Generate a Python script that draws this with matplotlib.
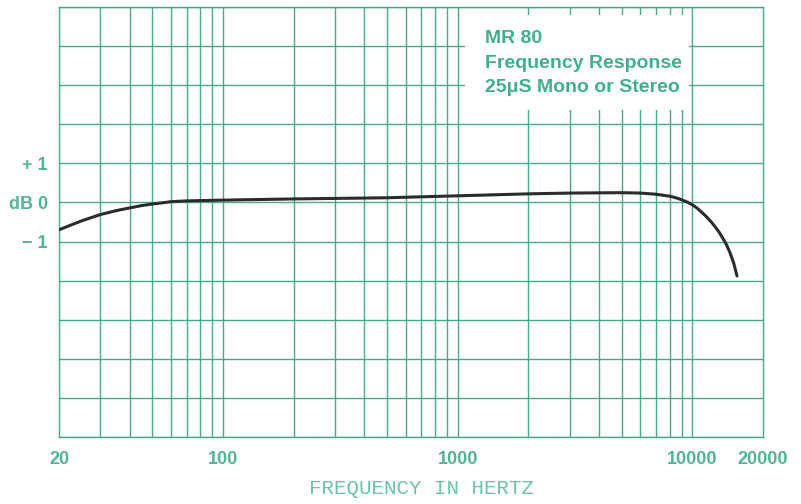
import matplotlib.pyplot as plt
import numpy as np
from matplotlib.patches import Rectangle

# response curve of the MR 80 (dB vs Hz)
freq = [20, 22, 25, 28, 30, 35, 40, 45, 50, 55, 60, 70, 100, 200, 500, 1000,
        2000, 3000, 5000, 6000, 7000, 8000, 8500, 9000, 9500, 10000, 10500,
        11000, 11500, 12000, 12500, 13000, 13500, 14000, 14500, 15000, 15500]
resp = [-0.70, -0.60, -0.47, -0.37, -0.31, -0.21, -0.14, -0.08, -0.04, -0.01,
        0.02, 0.04, 0.06, 0.09, 0.12, 0.17, 0.22, 0.24, 0.25, 0.24, 0.21, 0.16,
        0.12, 0.07, 0.01, -0.06, -0.15, -0.26, -0.37, -0.49, -0.62, -0.76,
        -0.92, -1.09, -1.30, -1.55, -1.88]

xgrid = list(range(30, 100, 10)) + list(range(100, 1000, 100)) + \
        list(range(1000, 10001, 1000))
xtick_vals = [20, 100, 1000, 10000, 20000]
xtick_text = ["20", "100", "1000", "10000", "20000"]
ygrid = list(range(-6, 6))
ylab = {1: "+ 1", 0: "dB 0", -1: "\u2212 1"}

title_lines = ["MR 80", "Frequency Response", "25\u03bcS Mono or Stereo"]

green = "#45a98d"
label_green = "#52b496"

fig = plt.figure(figsize=(8.01, 5.04), dpi=100)
ax = fig.add_axes([59/801, 67/504, 704/801, 430/504])
ax.set_xscale("log")
ax.set_xlim(20, 20000)
ax.set_ylim(-6, 5)

# hand-drawn style grid
for f in xgrid:
    ax.axvline(f, color=green, lw=1.0, zorder=1)
for y in ygrid:
    ax.axhline(y, color=green, lw=1.0, zorder=1)
for s in ax.spines.values():
    s.set_color(green)
    s.set_linewidth(1.0)

# blank panel behind the title
ax.add_patch(Rectangle((0.577, 0.760), 0.318, 0.221, transform=ax.transAxes,
                       facecolor="white", edgecolor="none", zorder=2))

ax.plot(freq, resp, color="#2b2b2b", lw=2.2, zorder=3,
        solid_capstyle="round", solid_joinstyle="round")

ax.xaxis.set_minor_locator(plt.NullLocator())
ax.set_xticks(xtick_vals)
ax.set_xticklabels(xtick_text)
ax.set_yticks(list(ylab.keys()))
ax.set_yticklabels(list(ylab.values()))
ax.tick_params(length=0, labelsize=13, labelcolor=label_green)
ax.tick_params(axis="x", pad=10)
ax.tick_params(axis="y", pad=8)
for t in ax.get_xticklabels() + ax.get_yticklabels():
    t.set_fontfamily("Liberation Sans")
    t.set_fontweight("bold")

for i, line in enumerate(title_lines):
    ax.text(485/801, 1 - (43 + 24.5*i)/504, line, transform=fig.transFigure,
            fontsize=14, fontweight="bold", family="Liberation Sans",
            color="#3fb08c", va="baseline", ha="left", zorder=4)

fig.text(422/801, 1 - 489/504, "FREQUENCY IN HERTZ", ha="center", va="center",
         family="Liberation Mono", fontsize=15, color="#6cc4aa")

fig.savefig("out.png", dpi=100)
